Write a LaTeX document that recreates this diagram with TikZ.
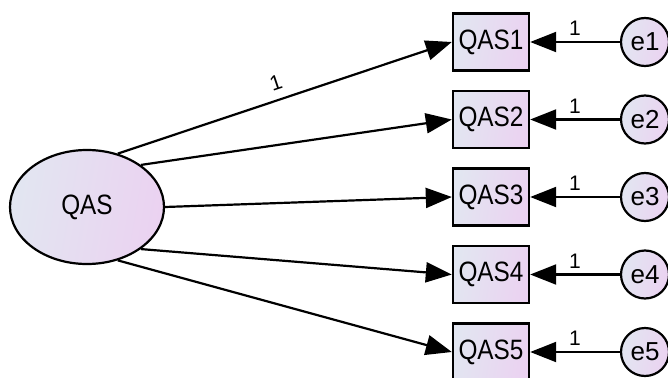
\documentclass[tikz,border=0pt]{standalone}
\usepackage{fontspec}
\setmainfont{Liberation Sans}
\usetikzlibrary{arrows.meta,shapes.geometric}
\newcommand{\nx}[1]{\scalebox{0.87}[1]{#1}}
\begin{document}
\begin{tikzpicture}[x=1pt,y=-1pt,
  fillgrad/.style={left color=gradL, right color=gradR, shading angle=80},
  obs/.style={draw, line width=2.4pt, fillgrad, minimum width=76pt, minimum height=57pt, inner sep=0pt, font=\fontsize{28}{28}\selectfont},
  lat/.style={draw, line width=2.2pt, ellipse, fillgrad, minimum width=154pt, minimum height=114pt, inner sep=0pt, font=\fontsize{28}{28}\selectfont},
  err/.style={draw, line width=2.2pt, circle, fillgrad, minimum size=48pt, inner sep=0pt, font=\fontsize{26}{26}\selectfont},
  conn/.style={line width=2.2pt, -{Triangle[length=26pt,width=20pt]}},
  wlab/.style={font=\fontsize{21}{21}\selectfont, inner sep=1pt}
]
\definecolor{gradL}{HTML}{E2E6F1}
\definecolor{gradR}{HTML}{EBD2F1}
\useasboundingbox (0,0) rectangle (668,377);
\node[lat] (qas) at (87,207) {\nx{QAS}};
\foreach \i/\y in {1/42,2/119.5,3/197,4/274.5,5/352}{
  \node[obs] (q\i) at (491,\y) {\nx{QAS\i}};
  \node[err] (e\i) at (645,\y) {e\i};
  \draw[conn] (e\i) -- node[wlab, above=4pt] {1} (q\i);
}
\draw[conn] (qas.60) -- node[wlab, pos=0.49, sloped, above=8pt] {1} (q1.west);
\draw[conn] (qas.38) -- (q2.west);
\draw[conn] (qas.0) -- (q3.west);
\draw[conn] (qas.-38) -- (q4.west);
\draw[conn] (qas.-60) -- (q5.west);
\end{tikzpicture}
\end{document}
